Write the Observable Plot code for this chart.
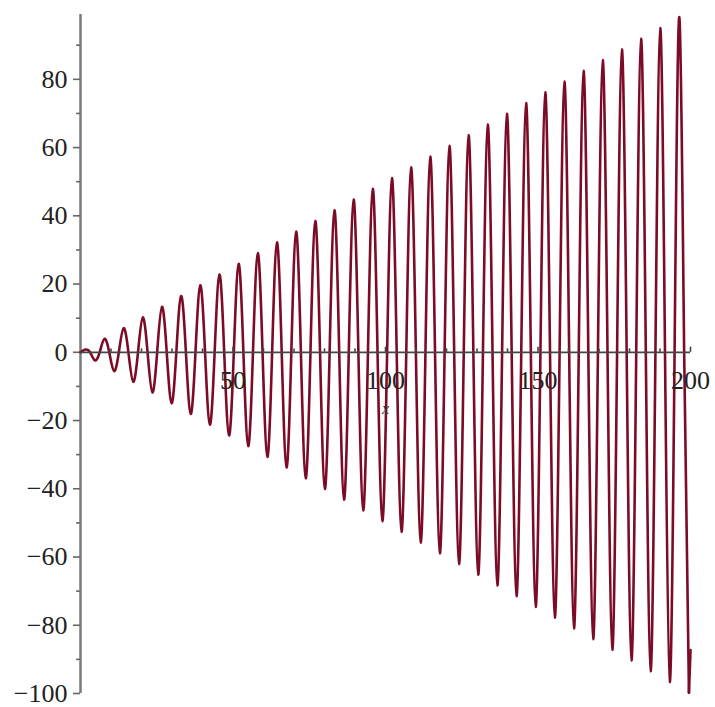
<!DOCTYPE html>
<html>
<head>
<meta charset="utf-8">
<script src="https://cdn.jsdelivr.net/npm/d3@7"></script>
<script src="https://cdn.jsdelivr.net/npm/@observablehq/plot@0.6"></script>
<style>
  body { margin: 0; background: #fff; }
</style>
</head>
<body>
<div id="chart"></div>
<script>
// Zero crossings of the curve (x values)
const crossX = [0, 3.14, 6.28, 9.42, 12.57, 15.71, 18.85, 21.99, 25.13, 28.27, 31.42, 34.56, 37.70, 40.84, 43.98, 47.12,
  50.27, 53.41, 56.55, 59.69, 62.83, 65.97, 69.12, 72.26, 75.40, 78.54, 81.68, 84.82, 87.96, 91.11, 94.25, 97.39,
  100.53, 103.67, 106.81, 109.96, 113.10, 116.24, 119.38, 122.52, 125.66, 128.81, 131.95, 135.09, 138.23, 141.37, 144.51, 147.65,
  150.80, 153.94, 157.08, 160.22, 163.36, 166.50, 169.65, 172.79, 175.93, 179.07, 182.21, 185.35, 188.50, 191.64, 194.78, 197.92];
// Peaks and troughs of the curve
const peakX = [1.57, 4.71, 7.85, 11.00, 14.14, 17.28, 20.42, 23.56, 26.70, 29.85, 32.99, 36.13, 39.27, 42.41, 45.55, 48.69,
  51.84, 54.98, 58.12, 61.26, 64.40, 67.54, 70.69, 73.83, 76.97, 80.11, 83.25, 86.39, 89.54, 92.68, 95.82, 98.96,
  102.10, 105.24, 108.38, 111.53, 114.67, 117.81, 120.95, 124.09, 127.23, 130.38, 133.52, 136.66, 139.80, 142.94, 146.08, 149.23,
  152.37, 155.51, 158.65, 161.79, 164.93, 168.08, 171.22, 174.36, 177.50, 180.64, 183.78, 186.92, 190.07, 193.21, 196.35, 199.49];
const peakY = [0.79, -2.36, 3.93, -5.50, 7.07, -8.64, 10.21, -11.78, 13.35, -14.92, 16.49, -18.06, 19.63, -21.21, 22.78, -24.35,
  25.92, -27.49, 29.06, -30.63, 32.20, -33.77, 35.34, -36.91, 38.48, -40.05, 41.63, -43.20, 44.77, -46.34, 47.91, -49.48,
  51.05, -52.62, 54.19, -55.76, 57.33, -58.90, 60.48, -62.05, 63.62, -65.19, 66.76, -68.33, 69.90, -71.47, 73.04, -74.61,
  76.18, -77.75, 79.33, -80.90, 82.47, -84.04, 85.61, -87.18, 88.75, -90.32, 91.89, -93.46, 95.03, -96.60, 98.17, -99.75];
// Final stretch after the last trough
const endX = [199.49, 200];
const endY = [-99.75, -87.3];

const xTicks = [50, 100, 150, 200];
const xMinor = [10, 20, 30, 40, 60, 70, 80, 90, 110, 120, 130, 140, 160, 170, 180, 190];
const yTicks = [80, 60, 40, 20, 0, -20, -40, -60, -80, -100];
const yMinor = [90, 70, 50, 30, 10, -10, -30, -50, -70, -90];
const xLabel = "x";

const pts = [
  ...crossX.map(x => ({x, y: 0})),
  ...peakX.map((x, i) => ({x, y: peakY[i]}))
].sort((a, b) => a.x - b.x);
const tail = endX.map((x, i) => ({x, y: endY[i]}));

const fmt = d => d < 0 ? "\u2212" + Math.abs(d) : String(d);
const lineColor = "#7c0c25";

const chart = Plot.plot({
  width: 715,
  height: 707,
  marginLeft: 80,
  marginRight: 25,
  marginTop: 14,
  marginBottom: 14,
  style: {fontFamily: "'Liberation Serif', 'Times New Roman', serif", background: "#fff"},
  x: {domain: [0, 200], axis: null},
  y: {domain: [-100, 99], axis: null},
  marks: [
    // y axis
    Plot.ruleX([0], {y1: -100, y2: 99, stroke: "#7a7a7a", strokeWidth: 2.5}),
    Plot.ruleY(yTicks, {y: d => d, x1: -2.3, x2: 0, stroke: "#666", strokeWidth: 1.6}),
    Plot.ruleY(yMinor, {y: d => d, x1: -1.3, x2: 0, stroke: "#666", strokeWidth: 1.6}),
    Plot.text(yTicks, {x: 0, y: d => d, text: fmt, textAnchor: "end", dx: -13, fontSize: 26, fill: "#222"}),
    // curve
    Plot.line(pts, {x: "x", y: "y", curve: "natural", stroke: lineColor, strokeWidth: 2.6}),
    Plot.line(tail, {x: "x", y: "y", stroke: lineColor, strokeWidth: 2.6}),
    // x axis
    Plot.ruleY([0], {x1: 0, x2: 200, stroke: "#444", strokeWidth: 1.8}),
    Plot.ruleX(xTicks, {x: d => d, y1: 0, y2: 1.5, stroke: "#444", strokeWidth: 1.6}),
    Plot.ruleX(xMinor, {x: d => d, y1: 0, y2: 1.0, stroke: "#444", strokeWidth: 1.6}),
    Plot.text(xTicks, {x: d => d, y: 0, text: d => String(d), dy: 28, fontSize: 26, fill: "#222"}),
    Plot.text([xLabel], {x: () => 100, y: () => 0, text: d => d, dy: 57, fontSize: 16, fontStyle: "italic", fill: "#333"})
  ]
});
document.getElementById("chart").append(chart);
</script>
</body>
</html>
